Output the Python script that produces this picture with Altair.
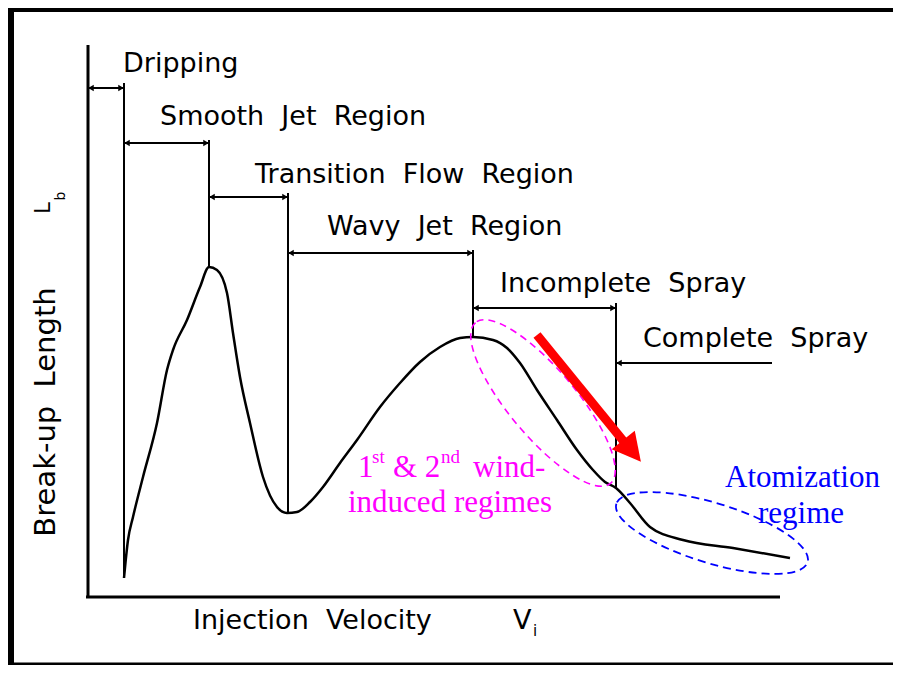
import altair as alt
import pandas as pd

# ---------------- data (schematic units: injection velocity V, break-up length L) ----------------
curve_v = [36, 40, 45, 55, 69, 79, 85, 99, 112, 121, 129, 139, 145, 152, 162, 175, 189, 199, 209, 222,
           235, 252, 269, 292, 312, 332, 352, 372, 385, 405, 419, 432, 449, 469, 489, 505, 517, 528,
           542, 562, 595, 645, 702]
curve_l = [19, 57, 80, 120, 174, 227, 247, 277, 310, 330, 327, 304, 264, 220, 174, 120, 90, 84, 85, 95,
           110, 134, 157, 190, 214, 235, 250, 259, 260, 257, 249, 234, 207, 177, 147, 127, 115, 109,
           94, 70, 57, 49, 39]

GAP = " \u00a0"  # wide word gap (SVG collapses plain double spaces)
region_names = ["Dripping", f"Smooth{GAP}Jet{GAP}Region", f"Transition{GAP}Flow{GAP}Region",
                f"Wavy{GAP}Jet{GAP}Region", f"Incomplete{GAP}Spray", f"Complete{GAP}Spray"]
bracket_start = [0, 36, 121, 200, 385, 528]
bracket_end = [36, 121, 200, 385, 528, 684]
bracket_level = [509, 454, 400, 344, 289, 234]
label_v = [35, 72, 167, 239, 412, 555]
label_l = [525, 472, 414, 362, 305, 250]

boundary_v = [36, 121, 200, 385, 528]
boundary_top = [514, 457, 404, 347, 294]
boundary_bottom = [19, 330, 84, 260, 109]

axis_v_max = 692
axis_l_max = 552

x_title = [f"Injection{GAP}Velocity", "V"]
x_title_v = [105, 425]
y_title = f"Break-up{GAP}Length"

wind_text = ["1", "& 2", "wind-", "induced regimes"]
wind_v = [270, 305, 385, 260]
wind_l = [120, 120, 120, 85]
wind_sup = ["st", "nd"]
wind_sup_v = [284, 353]
wind_sup_l = [134, 134]

atom_text = ["Atomization", "regime"]
atom_v = [637, 670]
atom_l = [110, 74]

arrow_from = (449, 262)
arrow_to = (537, 154)
arrow_head = (542.5, 148)

wind_ellipse = dict(v=455, l=194)
atom_ellipse = dict(v=624, l=64)

frame_v = [-77.5, 830]
frame_l = [-69, 588.5]

# ---------------- scales ----------------
xs = alt.Scale(domain=[-80, 805], nice=False, zero=False)
ys = alt.Scale(domain=[-68, 589], nice=False, zero=False)


def X(f):
    return alt.X(f, type="quantitative", scale=xs, axis=None)


def Y(f):
    return alt.Y(f, type="quantitative", scale=ys, axis=None)


layers = []

# frame
frame_df = pd.DataFrame({"v": [frame_v[0]], "v2": [frame_v[1]], "l": [frame_l[0]], "l2": [frame_l[1]]})
layers.append(alt.Chart(frame_df).mark_rect(fillOpacity=0, stroke="black", strokeWidth=7).encode(
    x=X("v"), x2="v2", y=Y("l"), y2="l2"))

# axes
axes_df = pd.DataFrame({"v": [0, -2], "v2": [0, axis_v_max], "l": [0, 0], "l2": [axis_l_max, 0]})
layers.append(alt.Chart(axes_df).mark_rule(color="black", strokeWidth=3).encode(
    x=X("v"), x2="v2", y=Y("l"), y2="l2"))

# boundaries
bnd_df = pd.DataFrame({"v": boundary_v, "top": boundary_top, "bot": boundary_bottom})
layers.append(alt.Chart(bnd_df).mark_rule(color="black", strokeWidth=2).encode(
    x=X("v"), y=Y("bot"), y2="top"))

# brackets
br_df = pd.DataFrame({"s": bracket_start, "e": bracket_end, "l": bracket_level})
layers.append(alt.Chart(br_df).mark_rule(color="black", strokeWidth=2).encode(
    x=X("s"), x2="e", y=Y("l")))

left_df = pd.DataFrame({"v": [s + 3 for s in bracket_start], "l": bracket_level})
layers.append(alt.Chart(left_df).mark_point(shape="triangle-left", filled=True, color="black",
                                            size=40, opacity=1).encode(x=X("v"), y=Y("l")))
right_df = pd.DataFrame({"v": [e - 3 for e in bracket_end[:5]], "l": bracket_level[:5]})
layers.append(alt.Chart(right_df).mark_point(shape="triangle-right", filled=True, color="black",
                                             size=40, opacity=1).encode(x=X("v"), y=Y("l")))

# region labels
lab_df = pd.DataFrame({"t": region_names, "v": label_v, "l": label_l})
layers.append(alt.Chart(lab_df).mark_text(align="left", baseline="alphabetic", font="DejaVu Sans",
                                          fontSize=27, color="black").encode(
    x=X("v"), y=Y("l"), text="t:N"))

# curve
curve_df = pd.DataFrame({"v": curve_v, "l": curve_l})
layers.append(alt.Chart(curve_df).mark_line(color="black", strokeWidth=2.5, interpolate="monotone").encode(
    x=X("v"), y=Y("l")))

# axis titles
xt_df = pd.DataFrame({"t": x_title, "v": x_title_v, "l": [-32, -32]})
layers.append(alt.Chart(xt_df).mark_text(align="left", baseline="alphabetic", font="DejaVu Sans",
                                         fontSize=27, color="black").encode(
    x=X("v"), y=Y("l"), text="t:N"))
xs_df = pd.DataFrame({"t": ["i"], "v": [445], "l": [-39]})
layers.append(alt.Chart(xs_df).mark_text(align="left", baseline="alphabetic", font="DejaVu Sans",
                                         fontSize=15, color="black").encode(
    x=X("v"), y=Y("l"), text="t:N"))

yt_df = pd.DataFrame({"t": [y_title], "v": [-33], "l": [185]})
layers.append(alt.Chart(yt_df).mark_text(align="center", baseline="alphabetic", font="DejaVu Sans",
                                         fontSize=29, angle=270, color="black").encode(
    x=X("v"), y=Y("l"), text="t:N"))
lb_df = pd.DataFrame({"t": ["L"], "v": [-38], "l": [389]})
layers.append(alt.Chart(lb_df).mark_text(align="center", baseline="alphabetic", font="DejaVu Sans",
                                         fontSize=21, angle=270, color="black").encode(
    x=X("v"), y=Y("l"), text="t:N"))
lbs_df = pd.DataFrame({"t": ["b"], "v": [-23], "l": [401]})
layers.append(alt.Chart(lbs_df).mark_text(align="center", baseline="alphabetic", font="DejaVu Sans",
                                          fontSize=14, angle=270, color="black").encode(
    x=X("v"), y=Y("l"), text="t:N"))

# ellipses
def ellipse_path(ratio):
    return f"M-1,0A1,{ratio},0,1,0,1,0A1,{ratio},0,1,0,-1,0Z"


we_df = pd.DataFrame({"v": [wind_ellipse["v"]], "l": [wind_ellipse["l"]]})
layers.append(alt.Chart(we_df).mark_point(shape=ellipse_path(0.32), filled=False, stroke="#FF00FF",
                                          strokeWidth=1.6, strokeDash=[7, 5], size=44100, angle=50,
                                          opacity=1).encode(x=X("v"), y=Y("l")))
ae_df = pd.DataFrame({"v": [atom_ellipse["v"]], "l": [atom_ellipse["l"]]})
layers.append(alt.Chart(ae_df).mark_point(shape=ellipse_path(0.3), filled=False, stroke="#0000FF",
                                          strokeWidth=1.8, strokeDash=[8, 5], size=40000, angle=17,
                                          opacity=1).encode(x=X("v"), y=Y("l")))

# red arrow
ar_df = pd.DataFrame({"v": [arrow_from[0]], "l": [arrow_from[1]], "v2": [arrow_to[0]], "l2": [arrow_to[1]]})
layers.append(alt.Chart(ar_df).mark_rule(color="#FF0000", strokeWidth=9, strokeCap="butt").encode(
    x=X("v"), x2="v2", y=Y("l"), y2="l2"))
ah_df = pd.DataFrame({"v": [arrow_head[0]], "l": [arrow_head[1]]})
layers.append(alt.Chart(ah_df).mark_point(shape="M0,-1L0.9,0.7L-0.9,0.7Z", filled=True, color="#FF0000",
                                          size=1089, angle=141, opacity=1).encode(x=X("v"), y=Y("l")))

# magenta text
wt_df = pd.DataFrame({"t": wind_text, "v": wind_v, "l": wind_l})
layers.append(alt.Chart(wt_df).mark_text(align="left", baseline="alphabetic", font="Liberation Serif",
                                         fontSize=31, color="#FF00FF").encode(
    x=X("v"), y=Y("l"), text="t:N"))
ws_df = pd.DataFrame({"t": wind_sup, "v": wind_sup_v, "l": wind_sup_l})
layers.append(alt.Chart(ws_df).mark_text(align="left", baseline="alphabetic", font="Liberation Serif",
                                         fontSize=19, color="#FF00FF").encode(
    x=X("v"), y=Y("l"), text="t:N"))

# blue text
at_df = pd.DataFrame({"t": atom_text, "v": atom_v, "l": atom_l})
layers.append(alt.Chart(at_df).mark_text(align="left", baseline="alphabetic", font="Liberation Serif",
                                         fontSize=31, color="#0000FF").encode(
    x=X("v"), y=Y("l"), text="t:N"))

chart = alt.layer(*layers).properties(
    width=885, height=657, padding=0,
    autosize=alt.AutoSizeParams(type="none"),
    background="white",
).configure_view(strokeWidth=0)

chart.save("out.html", embed_options={"renderer": "svg", "actions": False})
